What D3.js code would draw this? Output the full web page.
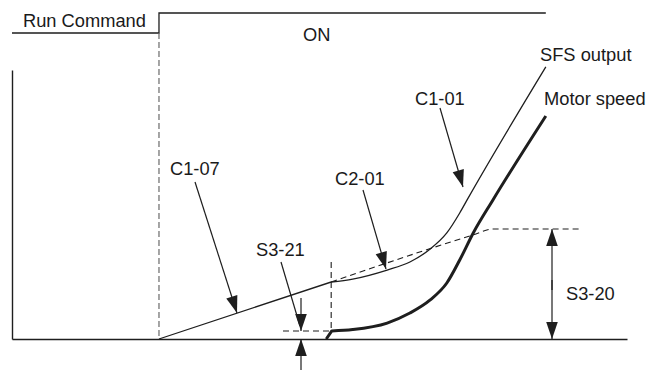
<!DOCTYPE html>
<html><head><meta charset="utf-8">
<script src="https://cdn.jsdelivr.net/npm/d3@7"></script>
<style>
body{margin:0;background:#fff}
svg{display:block}
text{font-family:"Liberation Sans",Arial,sans-serif;font-size:18.3px;fill:#1a1a1a}
</style>
</head><body>
<svg id="c" width="648" height="372"></svg>
<script>
// ---- data (time units, speed in % of S3-20 level) ----
const runTime = [-23.9, 0, 62.9];
const runState = [0, 1, 1];
const sfsTime  = [0, 28.0, 31.5, 37.1, 40.8, 44.1, 46.8, 48.9, 50.1, 62.9];
const sfsSpeed = [0, 51.8, 54.5, 62.7, 70.0, 81.8, 96.4, 114.5, 126.4, 247.3];
const motorTime  = [27.2, 28.1, 31.5, 37.1, 40.8, 44.1, 46.8, 48.9, 51.1, 54.3, 62.9];
const motorSpeed = [0, 7.3, 8.6, 14.5, 23.6, 35.5, 50.9, 71.8, 96.4, 126.4, 202.7];
const targetTime  = [28.0, 51.0, 54.3, 68.5];
const targetSpeed = [51.8, 94.4, 100, 100];
const s321Level = 7.3;
const s320Level = 100;
const labels = ["Run Command", "ON", "SFS output", "Motor speed", "C1-01", "C1-07", "C2-01", "S3-21", "S3-20"];

// ---- scales ----
const svg = d3.select("#c");
const x = d3.scaleLinear().domain([-23.9, 76.1]).range([12, 627]);
const y = d3.scaleLinear().domain([0, 244.5]).range([339, 70]);
const run = d3.scaleLinear().domain([0, 1]).range([33, 13]);
const ink = "#1e1e1e";

// axes
svg.append("g").attr("transform", `translate(0,${y(0)})`)
  .call(d3.axisBottom(x).tickValues([]).tickSizeOuter(0));
svg.append("g").attr("transform", `translate(${x(-23.9)},0)`)
  .call(d3.axisLeft(y).tickValues([]).tickSizeOuter(0));
svg.selectAll(".domain").attr("stroke", ink).attr("stroke-width", 1.4);

// run command step
const runPts = runTime.map((t, i) => [x(t), run(runState[i])]);
svg.append("path").attr("d", d3.line().curve(d3.curveStepAfter)(runPts))
  .attr("fill", "none").attr("stroke", ink).attr("stroke-width", 1.3);
svg.append("line").attr("x1", x(0)).attr("x2", x(0)).attr("y1", run(0)).attr("y2", y(0))
  .attr("stroke", "#6a6a6a").attr("stroke-width", 1.2).attr("stroke-dasharray", "6,3");

const lin = d3.line().x(d => x(d[0])).y(d => y(d[1]));
const mono = d3.line().x(d => x(d[0])).y(d => y(d[1])).curve(d3.curveMonotoneX);
const zip = (a, b) => a.map((v, i) => [v, b[i]]);

// target dashed
svg.append("path").attr("d", mono(zip(targetTime, targetSpeed)))
  .attr("fill", "none").attr("stroke", ink).attr("stroke-width", 1.1).attr("stroke-dasharray", "6,4");

// SFS output
const sfs = zip(sfsTime, sfsSpeed);
svg.append("path").attr("d", lin(sfs.slice(0, 2)) + mono(sfs.slice(1)).replace(/^M/, "L"))
  .attr("fill", "none").attr("stroke", ink).attr("stroke-width", 1.3);

// motor speed
const mot = zip(motorTime, motorSpeed);
svg.append("path").attr("d", lin(mot.slice(0, 2)) + mono(mot.slice(1)).replace(/^M/, "L"))
  .attr("fill", "none").attr("stroke", ink).attr("stroke-width", 3).attr("stroke-linejoin", "round");

// S3-21 dashed guides
svg.append("line").attr("x1", 283).attr("x2", x(28.0)).attr("y1", y(s321Level)).attr("y2", y(s321Level))
  .attr("stroke", ink).attr("stroke-width", 1.1).attr("stroke-dasharray", "6,4");
svg.append("line").attr("x1", x(28.0)).attr("x2", x(28.0)).attr("y1", 262).attr("y2", y(s321Level))
  .attr("stroke", ink).attr("stroke-width", 1.1).attr("stroke-dasharray", "6,4");

// arrows
function arrow(x1, y1, x2, y2, head) {
  svg.append("line").attr("x1", x1).attr("y1", y1).attr("x2", x2).attr("y2", y2)
    .attr("stroke", ink).attr("stroke-width", 1.2);
  if (head === false) return;
  const dx = x2 - x1, dy = y2 - y1, L = Math.hypot(dx, dy);
  const ux = dx / L, uy = dy / L, len = 17, w = 5.8;
  const bx = x2 - ux * len, by = y2 - uy * len;
  svg.append("path").attr("d", `M${x2},${y2}L${bx - uy * w},${by + ux * w}L${bx + uy * w},${by - ux * w}Z`)
    .attr("fill", ink);
}
arrow(195, 182, 237, 313);
arrow(363, 190, 386, 269);
arrow(440, 108, 463, 187);
arrow(281, 262, 300, 326, false);
arrow(301, 298, 301, y(s321Level));
arrow(301, 370, 301, y(0));
const sx = 552;
arrow(sx, 290, sx, y(s320Level));
arrow(sx, 280, sx, y(0));

// labels
const pos = [[23, 27], [303, 41], [540, 60.5], [544, 105], [415, 105], [170, 175], [335, 185], [256, 256], [566, 300]];
svg.selectAll("text.lbl").data(labels).join("text").attr("class", "lbl")
  .attr("x", (d, i) => pos[i][0]).attr("y", (d, i) => pos[i][1]).text(d => d);
</script>
</body></html>
